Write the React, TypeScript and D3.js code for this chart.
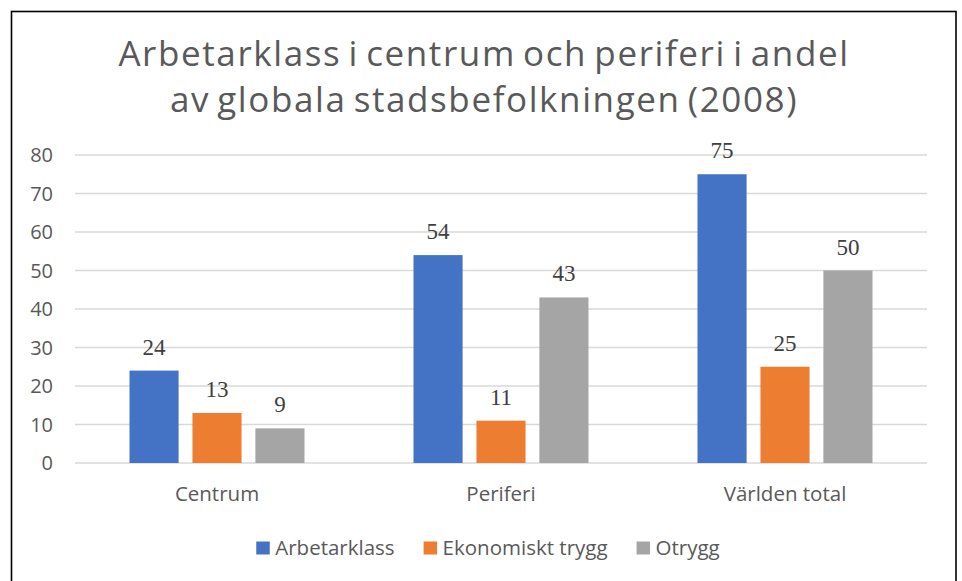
import { useEffect, useRef } from 'react';
import * as d3 from 'd3';

const categories = ['Centrum', 'Periferi', 'Världen total'];
const seriesNames = ['Arbetarklass', 'Ekonomiskt trygg', 'Otrygg'];
const seriesColors = ['#4472c4', '#ed7d31', '#a5a5a5'];
const arbetarklass = [24, 54, 75];
const ekonomisktTrygg = [13, 11, 25];
const otrygg = [9, 43, 50];
const yTicks = [0, 10, 20, 30, 40, 50, 60, 70, 80];
const titleLines = ['Arbetarklass i centrum och periferi i andel', 'av globala stadsbefolkningen (2008)'];

const W = 962;
const H = 581;
const sansFont = '"Open Sans", "Noto Sans", sans-serif';

export default function App() {
  const ref = useRef<SVGSVGElement>(null);

  useEffect(() => {
    const svg = d3.select(ref.current);
    svg.selectAll('*').remove();

    const values = [arbetarklass, ekonomisktTrygg, otrygg];
    const plot = { left: 75, right: 927, top: 155, bottom: 463 };

    // outer frame (bottom edge is off-screen)
    svg.append('rect')
      .attr('x', 11.5).attr('y', 11.5)
      .attr('width', 944.5).attr('height', 600)
      .attr('fill', 'white')
      .attr('stroke', '#000')
      .attr('stroke-width', 1.6);

    // title - slightly wide letters, tighter word gaps like the original
    svg.append('g')
      .selectAll('text')
      .data(titleLines)
      .join('text')
      .attr('x', 484)
      .attr('y', (_d, i) => 66 + i * 46)
      .attr('text-anchor', 'middle')
      .attr('font-family', sansFont)
      .attr('font-size', 35)
      .attr('letter-spacing', 1.6)
      .attr('word-spacing', -3.5)
      .attr('fill', '#595959')
      .text(d => d);

    const x0 = d3.scaleBand<string>().domain(categories).range([plot.left, plot.right]);
    const x1 = d3.scaleBand<string>().domain(seriesNames).range([-87.5, 87.5]).paddingInner(0.22);
    const y = d3.scaleLinear().domain([0, 80]).range([plot.bottom, plot.top]);

    // gridlines
    svg.append('g')
      .selectAll('line')
      .data(yTicks)
      .join('line')
      .attr('x1', plot.left).attr('x2', plot.right)
      .attr('y1', d => y(d)).attr('y2', d => y(d))
      .attr('stroke', '#d9d9d9')
      .attr('stroke-width', 1.5);

    // y tick labels
    svg.append('g')
      .selectAll('text')
      .data(yTicks)
      .join('text')
      .attr('x', 53)
      .attr('y', d => y(d))
      .attr('dy', '0.36em')
      .attr('text-anchor', 'end')
      .attr('font-family', sansFont)
      .attr('font-size', 20)
      .attr('fill', '#595959')
      .text(d => d);

    // bars + value labels
    seriesNames.forEach((s, si) => {
      const g = svg.append('g');
      const cx = (i: number) => x0(categories[i])! + x0.bandwidth() / 2 + x1(s)!;
      g.selectAll('rect')
        .data(values[si])
        .join('rect')
        .attr('x', (_d, i) => cx(i))
        .attr('y', d => y(d))
        .attr('width', x1.bandwidth())
        .attr('height', d => y(0) - y(d))
        .attr('fill', seriesColors[si]);
      g.selectAll('text')
        .data(values[si])
        .join('text')
        .attr('x', (_d, i) => cx(i) + x1.bandwidth() / 2)
        .attr('y', d => y(d) - 16)
        .attr('text-anchor', 'middle')
        .attr('font-family', '"Liberation Serif", "Times New Roman", serif')
        .attr('font-size', 23)
        .attr('fill', '#404040')
        .text(d => d);
    });

    // category labels
    svg.append('g')
      .selectAll('text')
      .data(categories)
      .join('text')
      .attr('x', d => x0(d)! + x0.bandwidth() / 2)
      .attr('y', 501)
      .attr('text-anchor', 'middle')
      .attr('font-family', sansFont)
      .attr('font-size', 20.5)
      .attr('fill', '#595959')
      .text(d => d);

    // legend
    const legend = svg.append('g');
    let xPos = 0;
    seriesNames.forEach((s, i) => {
      const item = legend.append('g').attr('transform', `translate(${xPos},0)`);
      item.append('rect')
        .attr('x', 0).attr('y', 541.5)
        .attr('width', 13.5).attr('height', 13)
        .attr('fill', seriesColors[i]);
      const t = item.append('text')
        .attr('x', 19).attr('y', 555)
        .attr('font-family', sansFont)
        .attr('font-size', 20.5)
        .attr('fill', '#595959')
        .text(s);
      const w = (t.node() as SVGTextElement).getComputedTextLength();
      xPos += 19 + w + 29;
    });
    const total = xPos - 29;
    legend.attr('transform', `translate(${488 - total / 2},0)`);
  }, []);

  return (
    <svg
      ref={ref}
      width={W}
      height={H}
      style={{ position: 'absolute', left: 0, top: 0, background: 'white' }}
    />
  );
}
